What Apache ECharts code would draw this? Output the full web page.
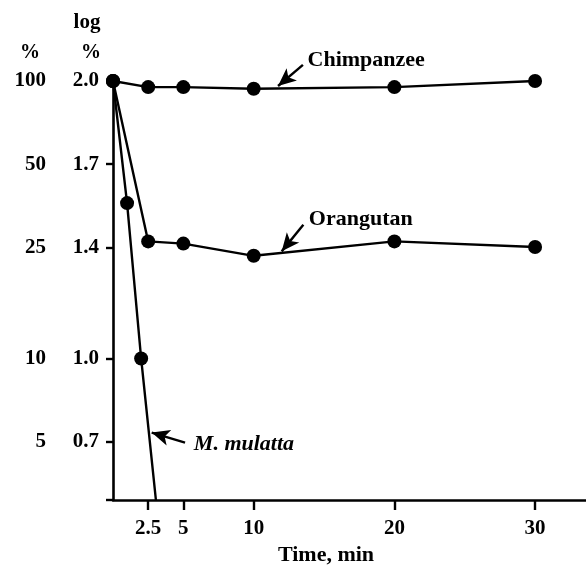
<!DOCTYPE html>
<html><head><meta charset="utf-8">
<script src="https://cdn.jsdelivr.net/npm/echarts@6/dist/echarts.min.js"></script>
<style>html,body{margin:0;padding:0;background:#fff}#c{width:586px;height:566px}</style>
</head><body><div id="c"></div>
<script>
// ---- data ----
const xTickLabels = [2.5, 5, 10, 20, 30];          // Time, min
const logTickLabels = [2.0, 1.7, 1.4, 1.0, 0.7];   // log %
const pctTickLabels = [100, 50, 25, 10, 5];        // %
const timesMain = [0, 2.5, 5, 10, 20, 30];
const chimpanzee = [2.0, 1.978, 1.978, 1.972, 1.978, 2.0];
const orangutan = [2.0, 1.422, 1.414, 1.370, 1.422, 1.402];
const mulattaTimes = [0, 1, 2, 3.05];
const mulatta = [2.0, 1.56, 1.0, 0.49];

const Y_MIN = 0.49, Y_MAX = 2.0, X_MAX = 33.62;
const FONT = 'Liberation Serif';
const txt = {fontFamily: FONT, fontWeight: 'bold', color: '#000'};
const black = '#000';

const chart = echarts.init(document.getElementById('c'));

// annotation anchors in data space (time, log %)
const annot = {
  chimp:   {from: [13.50, 2.058], to: [11.73, 1.982], text: [13.79, 2.076], curv: 0.1},
  orang:   {from: [13.53, 1.482], to: [11.99, 1.386], text: [13.88, 1.50], curv: 0.1},
  mulatta: {from: [5.12, 0.697], to: [2.75, 0.733], text: [5.71, 0.691], curv: -0.2}
};

function px(c) { return chart.convertToPixel({gridIndex: 0}, c); }
function arrow(a) {
  const f = px(a.from), t = px(a.to);
  return {
    silent: true, symbol: ['none', 'arrow'], symbolSize: [12, 18],
    label: {show: false},
    lineStyle: {color: black, width: 2.4, type: 'solid', curveness: a.curv},
    data: [[{x: f[0], y: f[1]}, {x: t[0], y: t[1]}]]
  };
}
function tag(name, a, extra) {
  const p = px(a.text);
  return {
    silent: true, symbol: 'circle', symbolSize: 1,
    itemStyle: {color: 'rgba(0,0,0,0)'},
    label: Object.assign({show: true, position: 'right', distance: 0, formatter: name, fontSize: 22}, txt, extra || {}),
    data: [{x: p[0], y: p[1]}]
  };
}
function lineSeries(name, xs, ys) {
  return {
    name, type: 'line', clip: false,
    data: xs.map((x, i) => (i === xs.length - 1 && ys[i] <= Y_MIN) ? {value: [x, ys[i]], symbol: 'none'} : [x, ys[i]]),
    symbol: 'circle', symbolSize: 14,
    itemStyle: {color: black},
    lineStyle: {color: black, width: 2.4},
    z: 3
  };
}
const hdr = (x, y, text, size) => ({type: 'text', style: {x, y, text, align: 'center', verticalAlign: 'middle', fill: black,
  fontFamily: FONT, fontWeight: 'bold', fontSize: size}});

chart.setOption({
  animation: false,
  backgroundColor: '#fff',
  grid: {left: 113, right: 0, top: 81, bottom: 66, containLabel: false, outerBoundsMode: 'none'},
  xAxis: {
    type: 'value', min: 0, max: X_MAX, splitLine: {show: false},
    axisLine: {show: true, lineStyle: {color: black, width: 2.6}},
    axisTick: {show: true, customValues: xTickLabels, length: 10, lineStyle: {color: black, width: 2.4}},
    axisLabel: Object.assign({customValues: xTickLabels, margin: 18, fontSize: 21, formatter: v => String(v)}, txt),
    name: 'Time, min', nameLocation: 'middle', nameGap: 42,
    nameTextStyle: Object.assign({fontSize: 22, padding: [0, 47, 0, 0]}, txt)
  },
  yAxis: [
    {
      type: 'value', min: Y_MIN, max: Y_MAX, position: 'left', splitLine: {show: false},
      axisLine: {show: true, lineStyle: {color: black, width: 2.6}},
      axisTick: {show: true, customValues: [Y_MIN].concat(logTickLabels), length: 7, lineStyle: {color: black, width: 2.4}},
      axisLabel: Object.assign({customValues: logTickLabels, margin: 14, fontSize: 21, padding: [6, 0, 0, 0],
        formatter: v => v.toFixed(1)}, txt)
    },
    {
      type: 'value', min: Y_MIN, max: Y_MAX, position: 'left', offset: 59, splitLine: {show: false},
      axisLine: {show: false}, axisTick: {show: false},
      axisLabel: Object.assign({customValues: pctTickLabels.map(p => Math.log10(p)), margin: 8, fontSize: 21,
        padding: [6, 0, 0, 0], formatter: v => String(Math.round(Math.pow(10, v)))}, txt)
    }
  ],
  graphic: [hdr(87, 23, 'log', 21), hdr(91, 53, '%', 20), hdr(30, 53, '%', 20)],
  series: [
    lineSeries('Chimpanzee', timesMain, chimpanzee),
    lineSeries('Orangutan', timesMain, orangutan),
    lineSeries('M. mulatta', mulattaTimes, mulatta)
  ]
});

// second pass: annotations placed through the chart's own scales
chart.setOption({
  series: [
    {markLine: arrow(annot.chimp), markPoint: tag('Chimpanzee', annot.chimp)},
    {markLine: arrow(annot.orang), markPoint: tag('Orangutan', annot.orang)},
    {markLine: arrow(annot.mulatta), markPoint: tag('M. mulatta', annot.mulatta, {fontStyle: 'italic'})}
  ]
});
</script>
</body></html>
